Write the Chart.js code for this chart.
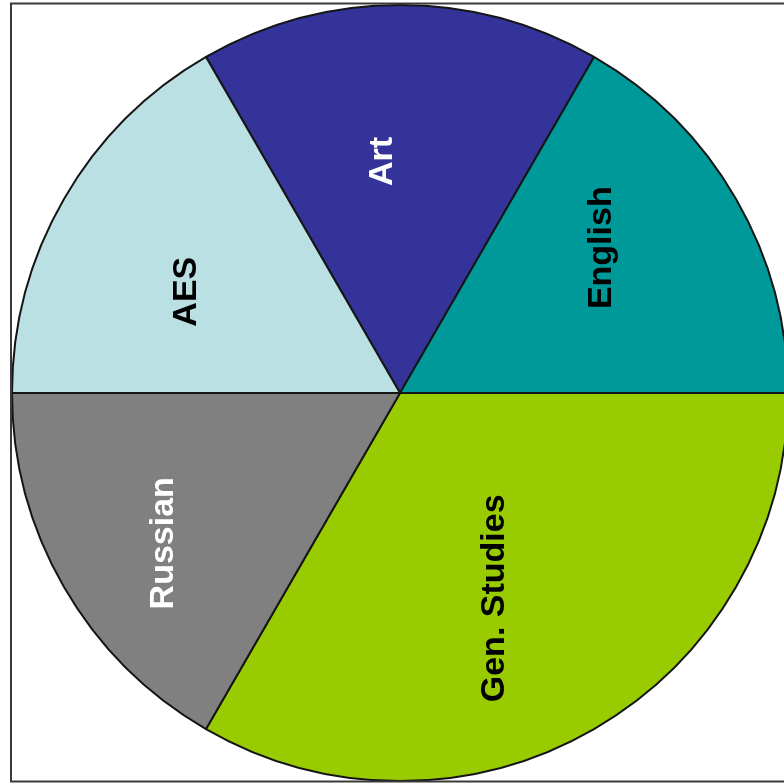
<!DOCTYPE html>
<html>
<head>
<meta charset="utf-8">
<script src="https://cdn.jsdelivr.net/npm/chart.js@4/dist/chart.umd.min.js"></script>
<style>
  html, body { margin: 0; padding: 0; background: #fff; overflow: hidden; }
  #wrap { position: absolute; left: 0; top: 0; width: 800px; height: 784px; }
</style>
</head>
<body>
<div id="wrap"><canvas id="pie" width="800" height="784"></canvas></div>
<script>
// slices, clockwise starting from the top slice
const subjects = ['Art', 'English', 'Gen. Studies', 'Russian', 'AES'];
const shares = [1, 1, 2, 1, 1];

const sliceColors = ['#333399', '#009999', '#99cc00', '#808080', '#bbe0e3'];
const labelColors = ['#ffffff', '#000000', '#000000', '#ffffff', '#000000'];
// small hand nudges for the label placement (px), like the original layout
const labelNudge = [[-19, 9], [-9, -25], [-28, -3], [-30, 30], [-7, 19]];

// rotated slice labels + outer frame
const sliceLabels = {
    id: 'sliceLabels',
    afterDatasetsDraw(chart) {
        const ctx = chart.ctx;
        const arcs = chart.getDatasetMeta(0).data;
        ctx.save();
        ctx.font = 'bold 34px "Liberation Sans", Arial, sans-serif';
        ctx.textAlign = 'center';
        ctx.textBaseline = 'middle';
        arcs.forEach((arc, i) => {
            const mid = (arc.startAngle + arc.endAngle) / 2;
            const r = arc.outerRadius * 0.62;
            const x = arc.x + Math.cos(mid) * r + labelNudge[i][0];
            const y = arc.y + Math.sin(mid) * r + labelNudge[i][1];
            ctx.save();
            ctx.translate(x, y);
            ctx.rotate(-Math.PI / 2);
            ctx.fillStyle = labelColors[i];
            ctx.fillText(subjects[i], 0, 2);
            ctx.restore();
        });
        ctx.restore();
    },
    afterDraw(chart) {
        const ctx = chart.ctx;
        ctx.save();
        ctx.strokeStyle = '#3a3a3a';
        ctx.lineWidth = 2;
        ctx.strokeRect(11, 3.5, 820, 778);
        ctx.restore();
    }
};

new Chart(document.getElementById('pie'), {
    type: 'pie',
    data: {
        labels: subjects,
        datasets: [{
            data: shares,
            backgroundColor: sliceColors,
            borderColor: '#151515',
            borderWidth: 2,
            hoverOffset: 0
        }]
    },
    options: {
        responsive: false,
        animation: false,
        rotation: -30,
        layout: { padding: { left: 11, right: 11, top: 4, bottom: 2 } },
        plugins: {
            legend: { display: false },
            tooltip: { enabled: false }
        }
    },
    plugins: [sliceLabels]
});
</script>
</body>
</html>
